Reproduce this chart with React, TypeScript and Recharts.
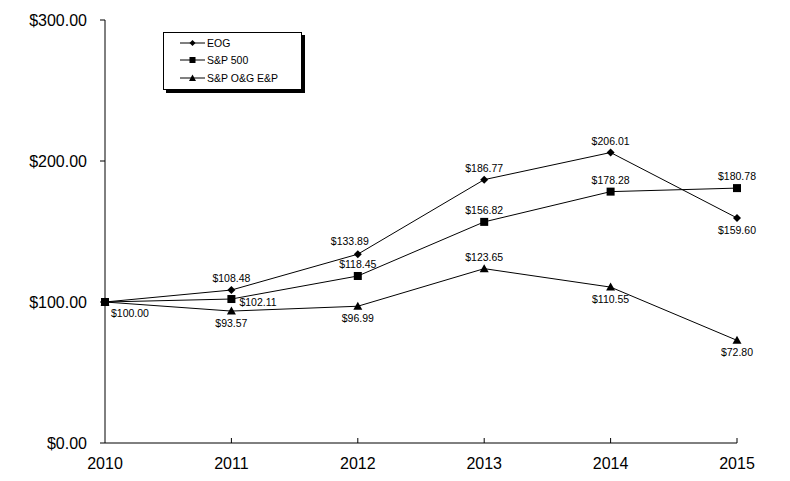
import React from "react";
import { LineChart, Line, XAxis, YAxis, LabelList } from "recharts";

const years = ["2010", "2011", "2012", "2013", "2014", "2015"];
const eog = [100, 108.48, 133.89, 186.77, 206.01, 159.6];
const sp500 = [100, 102.11, 118.45, 156.82, 178.28, 180.78];
const oilGas = [100, 93.57, 96.99, 123.65, 110.55, 72.8];
const yTicks = [0, 100, 200, 300];

// where each point's value label sits
const eogLabelPos = ["none", "top", "topLeft", "top", "top", "bottom"];
const spLabelPos = ["bottomRight", "right", "top", "top", "top", "top"];
const ogLabelPos = ["none", "bottom", "bottom", "top", "bottom", "bottom"];

const data = years.map((year, i) => ({
  year,
  eog: eog[i],
  sp500: sp500[i],
  oilGas: oilGas[i],
}));

const FONT = "'Liberation Sans', Arial, sans-serif";
const money = (v: number) => `$${v.toFixed(2)}`;

const Diamond = ({ cx, cy }: { cx: number; cy: number }) => (
  <path d={`M${cx},${cy - 4}L${cx + 4},${cy}L${cx},${cy + 4}L${cx - 4},${cy}Z`} fill="#000" />
);
const Square = ({ cx, cy }: { cx: number; cy: number }) => (
  <rect x={cx - 4} y={cy - 4} width={8} height={8} fill="#000" />
);
const Triangle = ({ cx, cy }: { cx: number; cy: number }) => (
  <path d={`M${cx},${cy - 4.5}L${cx + 4.5},${cy + 3.5}L${cx - 4.5},${cy + 3.5}Z`} fill="#000" />
);

const makeLabel = (positions: string[]) => (props: any) => {
  const { x, y, value, index } = props;
  const pos = positions[index];
  if (pos === "none" || x == null) return null;
  let tx = x;
  let ty = y;
  let anchor: "start" | "middle" = "middle";
  if (pos === "top") ty = y - 12;
  else if (pos === "topLeft") {
    tx = x - 8;
    ty = y - 13;
  } else if (pos === "bottom") ty = y + 12;
  else if (pos === "right") {
    tx = x + 8;
    ty = y + 3;
    anchor = "start";
  } else if (pos === "bottomRight") {
    tx = x + 6;
    ty = y + 11;
    anchor = "start";
  }
  return (
    <text
      x={tx}
      y={ty}
      textAnchor={anchor}
      dominantBaseline="central"
      fontSize={10.5}
      fontFamily={FONT}
      fill="#000"
    >
      {money(Number(value))}
    </text>
  );
};

const XTick = (props: any) => {
  const { x, y, payload, index } = props;
  return (
    <g>
      {index > 0 && <line x1={x} y1={y - 5} x2={x} y2={y} stroke="#000" />}
      <text x={x} y={y + 20} textAnchor="middle" dominantBaseline="central" fontSize={16} fontFamily={FONT} fill="#000">
        {payload.value}
      </text>
    </g>
  );
};

const YTick = (props: any) => {
  const { x, y, payload } = props;
  return (
    <g>
      <line x1={x - 5} y1={y} x2={x} y2={y} stroke="#000" />
      <text x={x - 18} y={y} textAnchor="end" dominantBaseline="central" fontSize={16} fontFamily={FONT} fill="#000">
        {money(payload.value)}
      </text>
    </g>
  );
};

const LegendRow = ({ label, marker }: { label: string; marker: React.ReactNode }) => (
  <div style={{ display: "flex", alignItems: "center", height: 17.5 }}>
    <svg width={25} height={10} style={{ marginRight: 2 }}>
      <line x1={0} y1={5} x2={25} y2={5} stroke="#000" />
      {marker}
    </svg>
    <span>{label}</span>
  </div>
);

export default function App() {
  return (
    <div style={{ position: "absolute", left: 0, top: 0, width: 790, height: 481, background: "#fff" }}>
      <LineChart
        width={790}
        height={481}
        data={data}
        margin={{ top: 20, right: 53, left: 0, bottom: 0 }}
      >
        <XAxis
          dataKey="year"
          height={38}
          tick={<XTick />}
          tickLine={false}
          tickSize={0}
          tickMargin={0}
          axisLine={{ stroke: "#000" }}
          interval={0}
        />
        <YAxis
          width={105}
          domain={[0, 300]}
          ticks={yTicks}
          tick={<YTick />}
          tickLine={false}
          tickSize={0}
          tickMargin={0}
          axisLine={{ stroke: "#000" }}
        />
        <Line
          dataKey="eog"
          stroke="#000"
          strokeWidth={1}
          isAnimationActive={false}
          dot={(p: any) => <Diamond key={`e${p.index}`} cx={p.cx} cy={p.cy} />}
          activeDot={false}
        >
          <LabelList dataKey="eog" content={makeLabel(eogLabelPos)} />
        </Line>
        <Line
          dataKey="sp500"
          stroke="#000"
          strokeWidth={1}
          isAnimationActive={false}
          dot={(p: any) => <Square key={`s${p.index}`} cx={p.cx} cy={p.cy} />}
          activeDot={false}
        >
          <LabelList dataKey="sp500" content={makeLabel(spLabelPos)} />
        </Line>
        <Line
          dataKey="oilGas"
          stroke="#000"
          strokeWidth={1}
          isAnimationActive={false}
          dot={(p: any) => <Triangle key={`o${p.index}`} cx={p.cx} cy={p.cy} />}
          activeDot={false}
        >
          <LabelList dataKey="oilGas" content={makeLabel(ogLabelPos)} />
        </Line>
      </LineChart>
      <div
        style={{
          position: "absolute",
          left: 163,
          top: 32,
          width: 139,
          height: 58,
          border: "1px solid #000",
          boxShadow: "3px 3px 0 #000",
          background: "#fff",
          fontFamily: FONT,
          fontSize: 10.5,
          padding: "1px 0 0 16px",
          boxSizing: "border-box",
        }}
      >
        <LegendRow label="EOG" marker={<path d="M12.5,2L15.5,5L12.5,8L9.5,5Z" fill="#000" />} />
        <LegendRow label="S&P 500" marker={<rect x={9.5} y={2} width={6} height={6} fill="#000" />} />
        <LegendRow label="S&P O&G E&P" marker={<path d="M12.5,1.5L16,8L9,8Z" fill="#000" />} />
      </div>
    </div>
  );
}
